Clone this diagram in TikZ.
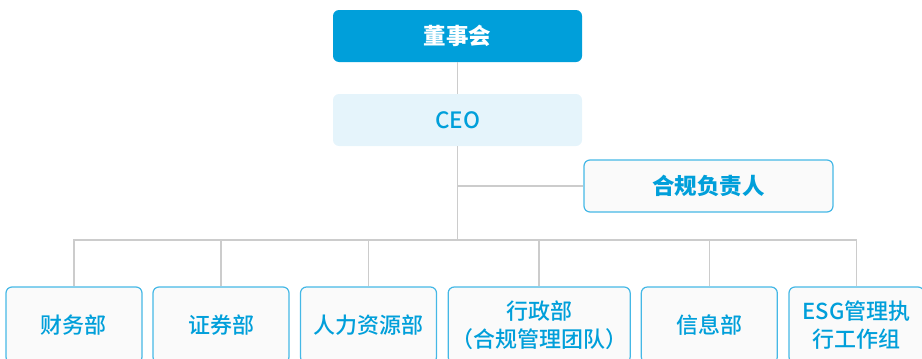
\documentclass[tikz,border=0pt]{standalone}
\usepackage{fontspec}
\setmainfont{Noto Sans CJK SC}
\newfontfamily\medfont{Noto Sans CJK SC Medium}
\definecolor{mainblue}{HTML}{009FDA}
\definecolor{lightblue}{HTML}{E5F4FB}
\definecolor{edgeblue}{HTML}{45B8E6}
\definecolor{boxfill}{HTML}{FAFAFA}
\definecolor{linegray}{HTML}{CCCCCC}
\tikzset{
  topbox/.style={rounded corners=6pt, fill=mainblue, draw=none, minimum width=249pt, minimum height=52pt, text=white, font=\fontsize{22.5}{27}\selectfont\bfseries},
  ceobox/.style={rounded corners=6pt, fill=lightblue, draw=none, minimum width=249pt, minimum height=52pt, text=mainblue, font=\fontsize{22.5}{27}\selectfont\medfont},
  compbox/.style={rounded corners=6pt, fill=boxfill, draw=edgeblue, line width=1.2pt, minimum width=249pt, minimum height=52pt, text=mainblue, font=\fontsize{22.5}{27}\selectfont\bfseries},
  deptbox/.style={rounded corners=6pt, fill=boxfill, draw=edgeblue, line width=1.2pt, minimum width=136pt, minimum height=76pt, text=mainblue, align=center, font=\fontsize{22}{28.5}\selectfont\medfont, inner sep=0pt},
  conn/.style={draw=linegray, line width=1.5pt}
}
\begin{document}
\begin{tikzpicture}[x=1pt,y=-1pt]
\useasboundingbox (0,0) rectangle (922,359);
\clip (0,0) rectangle (922,359);
\node[topbox] (board) at (457.5,36) {董事会};
\node[ceobox] (ceo) at (457.5,120) {CEO};
\node[compbox] (comp) at (708.5,186) {合规负责人};
\coordinate (bus) at (457.5,240);
\node[deptbox] (d1) at (74,325) {财务部};
\node[deptbox] (d2) at (221,325) {证券部};
\node[deptbox] (d3) at (368.5,325) {人力资源部};
\node[deptbox, minimum width=182pt] (d4) at (539.2,325) {行政部\\（合规管理团队）};
\node[deptbox] (d5) at (709.3,325) {信息部};
\node[deptbox, minimum width=135pt] (d6) at (856.5,325) {ESG管理执\\行工作组};
\draw[conn] (board.south) -- (ceo.north);
\draw[conn] (ceo.south) -- (bus);
\draw[conn] (ceo.south |- comp.west) -- (comp.west);
\draw[conn] (d1.north) -- (d1.north |- bus) -- (d6.north |- bus) -- (d6.north);
\foreach \n in {d2,d3,d4,d5} \draw[conn] (\n.north) -- (\n.north |- bus);
\end{tikzpicture}
\end{document}
